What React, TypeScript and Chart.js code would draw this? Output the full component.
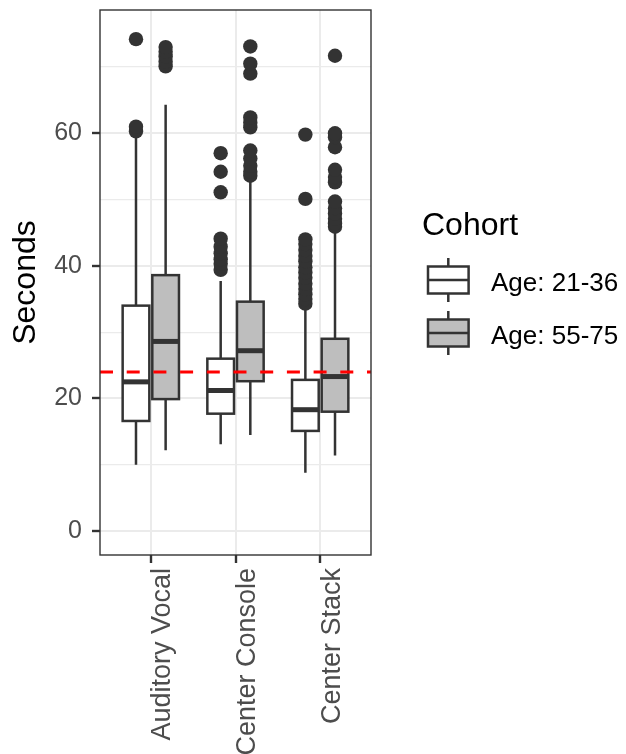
import React, { useEffect, useRef } from 'react';
import { Chart, registerables } from 'chart.js';
Chart.register(...registerables);

// ---------- data ----------
const categories = ['Auditory Vocal', 'Center Console', 'Center Stack'];
const cohorts = ['Age: 21-36', 'Age: 55-75'];
const cohortFills = ['#FFFFFF', '#BEBEBE'];

// Age 21-36 (per category)
const youngLowerWhisker = [10.0, 13.1, 8.8];
const youngQ1 = [16.6, 17.7, 15.1];
const youngMedian = [22.5, 21.2, 18.3];
const youngQ3 = [34.0, 26.0, 22.8];
const youngUpperWhisker = [59.6, 37.7, 33.8];
const youngOutliers = [
  [60.3, 61.0, 74.2],
  [39.4, 40.3, 41.0, 41.9, 42.9, 44.1, 51.1, 54.2, 57.0],
  [34.3, 35.0, 35.7, 36.5, 37.3, 38.2, 39.0, 39.8, 40.7, 41.5, 42.4, 43.3, 44.0, 50.1, 59.8],
];

// Age 55-75 (per category)
const oldLowerWhisker = [12.2, 14.5, 11.4];
const oldQ1 = [19.9, 22.6, 18.0];
const oldMedian = [28.6, 27.2, 23.3];
const oldQ3 = [38.6, 34.6, 29.0];
const oldUpperWhisker = [64.3, 52.9, 45.2];
const oldOutliers = [
  [70.1, 70.8, 71.6, 72.3, 73.0],
  [53.6, 54.2, 55.1, 56.2, 57.4, 60.9, 61.6, 62.4, 69.0, 70.5, 73.1],
  [45.9, 46.4, 47.1, 47.9, 48.7, 49.7, 52.6, 53.4, 54.5, 57.9, 59.4, 60.0, 71.7],
];

const referenceLine = 24;
const yTickLabels = [0, 20, 40, 60];

const dodge = 0.175;
const boxHalf = 0.1575;

const FONT = '"Liberation Sans", Arial, Helvetica, sans-serif';
const INK = '#333333';

const stats = [
  { lo: youngLowerWhisker, q1: youngQ1, med: youngMedian, q3: youngQ3, hi: youngUpperWhisker, out: youngOutliers },
  { lo: oldLowerWhisker, q1: oldQ1, med: oldMedian, q3: oldQ3, hi: oldUpperWhisker, out: oldOutliers },
];

const boxPlugin = {
  id: 'boxes',
  beforeDatasetsDraw(chart: any) {
    const { ctx, scales } = chart;
    const xs = scales.x;
    const ys = scales.y;
    ctx.save();
    ctx.lineCap = 'butt';
    stats.forEach((s, c) => {
      categories.forEach((_, i) => {
        const cx = i + (c === 0 ? -dodge : dodge);
        const px = xs.getPixelForValue(cx);
        const left = xs.getPixelForValue(cx - boxHalf);
        const right = xs.getPixelForValue(cx + boxHalf);
        const yLo = ys.getPixelForValue(s.lo[i]);
        const yQ1 = ys.getPixelForValue(s.q1[i]);
        const yMed = ys.getPixelForValue(s.med[i]);
        const yQ3 = ys.getPixelForValue(s.q3[i]);
        const yHi = ys.getPixelForValue(s.hi[i]);
        ctx.strokeStyle = INK;
        ctx.lineWidth = 2.5;
        ctx.beginPath();
        ctx.moveTo(px, yHi);
        ctx.lineTo(px, yQ3);
        ctx.moveTo(px, yQ1);
        ctx.lineTo(px, yLo);
        ctx.stroke();
        ctx.fillStyle = cohortFills[c];
        ctx.fillRect(left, yQ3, right - left, yQ1 - yQ3);
        ctx.strokeRect(left, yQ3, right - left, yQ1 - yQ3);
        ctx.lineWidth = 5;
        ctx.beginPath();
        ctx.moveTo(left, yMed);
        ctx.lineTo(right, yMed);
        ctx.stroke();
      });
    });
    ctx.restore();
  },
  afterDraw(chart: any) {
    const { ctx, chartArea } = chart;
    ctx.save();
    // panel border
    ctx.strokeStyle = INK;
    ctx.lineWidth = 1.4;
    ctx.strokeRect(chartArea.left, chartArea.top, chartArea.right - chartArea.left, chartArea.bottom - chartArea.top);

    // legend
    ctx.fillStyle = '#000000';
    ctx.textBaseline = 'alphabetic';
    ctx.textAlign = 'left';
    ctx.font = `32px ${FONT}`;
    ctx.fillText('Cohort', 422, 235);
    const keys = [
      { top: 258, bTop: 266.5, med: 280, bBot: 293.5, bot: 302, label: 290.5 },
      { top: 311, bTop: 319.5, med: 333, bBot: 346.5, bot: 355, label: 343.5 },
    ];
    keys.forEach((k, c) => {
      const cx = 448.3;
      ctx.strokeStyle = INK;
      ctx.lineWidth = 2.5;
      ctx.beginPath();
      ctx.moveTo(cx, k.top);
      ctx.lineTo(cx, k.bTop);
      ctx.moveTo(cx, k.bBot);
      ctx.lineTo(cx, k.bot);
      ctx.stroke();
      ctx.fillStyle = cohortFills[c];
      ctx.fillRect(428, k.bTop, 40.6, k.bBot - k.bTop);
      ctx.strokeRect(428, k.bTop, 40.6, k.bBot - k.bTop);
      ctx.lineWidth = 2.6;
      ctx.beginPath();
      ctx.moveTo(428, k.med);
      ctx.lineTo(468.6, k.med);
      ctx.stroke();
      ctx.fillStyle = '#000000';
      ctx.font = `26px ${FONT}`;
      ctx.fillText(cohorts[c], 491, k.label);
    });
    ctx.restore();
  },
};

export default function App() {
  const ref = useRef<HTMLCanvasElement>(null);
  useEffect(() => {
    const canvas = ref.current;
    if (!canvas) return;
    const outlierData = (c: number) =>
      stats[c].out.flatMap((vals, i) => vals.map((v) => ({ x: i + (c === 0 ? -dodge : dodge), y: v })));
    const chart = new Chart(canvas, {
      type: 'scatter',
      data: {
        datasets: [
          {
            type: 'line',
            label: 'reference',
            data: [
              { x: -0.6, y: referenceLine },
              { x: 2.6, y: referenceLine },
            ],
            borderColor: '#FF0000',
            borderWidth: 3,
            borderDash: [13, 13.7],
            pointRadius: 0,
            fill: false,
            order: 0,
          } as any,
          {
            label: cohorts[0],
            data: outlierData(0),
            pointRadius: 7.2,
            pointBackgroundColor: INK,
            pointBorderWidth: 0,
            borderWidth: 0,
            order: 1,
          },
          {
            label: cohorts[1],
            data: outlierData(1),
            pointRadius: 7.2,
            pointBackgroundColor: INK,
            pointBorderWidth: 0,
            borderWidth: 0,
            order: 2,
          },
        ],
      },
      options: {
        responsive: false,
        devicePixelRatio: 1,
        animation: false,
        events: [],
        layout: { padding: { left: 0, top: 10, right: 255, bottom: 0 } },
        plugins: { legend: { display: false }, tooltip: { enabled: false } },
        scales: {
          x: {
            type: 'linear',
            min: -0.6,
            max: 2.6,
            afterFit: (s: any) => {
              s.height = 199;
              s.paddingLeft = 0;
              s.paddingRight = 0;
            },
            ticks: {
              stepSize: 1,
              includeBounds: false,
              autoSkip: false,
              minRotation: 90,
              maxRotation: 90,
              padding: 5,
              labelOffset: 12,
              color: '#4D4D4D',
              font: { size: 27, family: FONT },
              callback: (v: any) => categories[Math.round(Number(v))] ?? '',
            },
            grid: {
              color: '#EBEBEB',
              lineWidth: 2,
              drawTicks: true,
              tickLength: 8,
              tickWidth: 2.4,
              tickColor: INK,
            },
            border: { display: false },
          },
          y: {
            type: 'linear',
            min: -3.62,
            max: 78.6,
            afterFit: (s: any) => {
              s.width = 100;
              s.paddingTop = 0;
              s.paddingBottom = 0;
            },
            title: {
              display: true,
              text: 'Seconds',
              color: '#000000',
              font: { size: 32, family: FONT },
              padding: { top: 7, bottom: 0 },
            },
            ticks: {
              stepSize: 10,
              includeBounds: false,
              padding: 10,
              color: '#4D4D4D',
              font: { size: 25, family: FONT },
              callback: (v: any) => {
                const n = Math.round(Number(v));
                return yTickLabels.includes(n) ? String(n) : '';
              },
            },
            grid: {
              color: '#EBEBEB',
              lineWidth: (ctx: any) => (yTickLabels.includes(Math.round(ctx.tick?.value ?? 1)) ? 2 : 1.2),
              drawTicks: true,
              tickLength: 8,
              tickWidth: 2.4,
              tickColor: (ctx: any) =>
                yTickLabels.includes(Math.round(ctx.tick?.value ?? 1)) ? INK : 'rgba(0,0,0,0)',
            },
            border: { display: false },
          },
        },
      } as any,
      plugins: [boxPlugin],
    });
    return () => chart.destroy();
  }, []);
  return (
    <div style={{ position: 'absolute', left: 0, top: 0, width: 626, height: 754, background: '#FFFFFF' }}>
      <canvas ref={ref} width={626} height={754} style={{ display: 'block', width: 626, height: 754 }} />
    </div>
  );
}
